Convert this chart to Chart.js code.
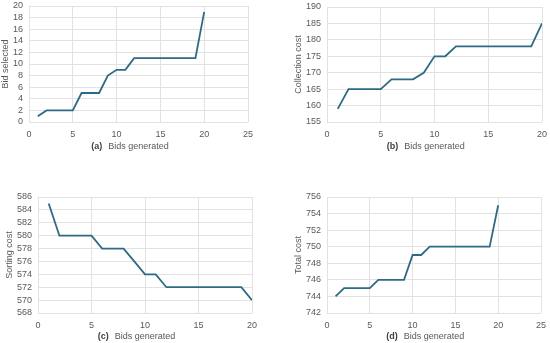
<!DOCTYPE html>
<html>
<head>
<meta charset="utf-8">
<script src="https://cdn.jsdelivr.net/npm/chart.js@4.4.1/dist/chart.umd.min.js"></script>
<style>
  html, body { margin: 0; padding: 0; background: #ffffff; }
  body { width: 550px; height: 343px; position: relative; overflow: hidden; }
  .cell { position: absolute; width: 275px; height: 172px; }
  canvas { display: block; }
</style>
</head>
<body>
<div class="cell" style="left:0;top:0"><canvas id="ca"></canvas></div>
<div class="cell" style="left:275px;top:0"><canvas id="cb"></canvas></div>
<div class="cell" style="left:0;top:172px;height:171px"><canvas id="cc"></canvas></div>
<div class="cell" style="left:275px;top:172px;height:171px"><canvas id="cd"></canvas></div>
<script>
// ---- data ----
const bidsGenerated = [1, 2, 3, 4, 5, 6, 7, 8, 9, 10, 11, 12, 13, 14, 15, 16, 17, 18, 19, 20];
const bidSelected    = [1, 2, 2, 2, 2, 5, 5, 5, 8, 9, 9, 11, 11, 11, 11, 11, 11, 11, 11, 19];
const collectionCost = [159, 165, 165, 165, 165, 168, 168, 168, 170, 175, 175, 178, 178, 178, 178, 178, 178, 178, 178, 185];
const sortingCost    = [585, 580, 580, 580, 580, 578, 578, 578, 576, 574, 574, 572, 572, 572, 572, 572, 572, 572, 572, 570];
const totalCost      = [744, 745, 745, 745, 745, 746, 746, 746, 746, 749, 749, 750, 750, 750, 750, 750, 750, 750, 750, 755];

const panelLabels = ['(a)', '(b)', '(c)', '(d)'];
const xTitle = 'Bids generated';
const yTitles = ['Bid selected', 'Collection cost', 'Sorting cost', 'Total cost'];
const xMax = [25, 20, 20, 25];
const yMin = [0, 155, 568, 742];
const yMax = [20, 190, 586, 756];
const yStep = [2, 5, 2, 2];

const LINE = '#2f6a84';
const GRID = '#e2e2e2';
const TICK = '#595959';
const FONT = 'Liberation Sans, Arial, sans-serif';
const FS = 9;
const TITLE_PAD_BOTTOM = 1;

function toPoints(ys) { return bidsGenerated.map((x, i) => ({ x: x, y: ys[i] })); }

// draws the panel label "(a)" etc. just left of the x-axis title
const panelLabelPlugin = {
  id: 'panelLabel',
  afterDraw(chart, args, opts) {
    const ctx = chart.ctx;
    const xs = chart.scales.x;
    ctx.save();
    ctx.font = FS + 'px ' + FONT;
    const tw = ctx.measureText(xTitle).width;
    const cx = (chart.chartArea.left + chart.chartArea.right) / 2;
    const y = xs.bottom - TITLE_PAD_BOTTOM - FS * 1.2 / 2;
    ctx.font = 'bold ' + FS + 'px ' + FONT;
    ctx.fillStyle = '#404040';
    ctx.textAlign = 'right';
    ctx.textBaseline = 'middle';
    ctx.fillText(opts.text, cx - tw / 2 - 6, y);
    ctx.restore();
  }
};

function makeChart(id, idx, ys, geo) {
  new Chart(document.getElementById(id), {
    type: 'line',
    data: { datasets: [{ data: toPoints(ys), borderColor: LINE, borderWidth: 1.8, pointRadius: 0, tension: 0, fill: false }] },
    plugins: [panelLabelPlugin],
    options: {
      responsive: true, maintainAspectRatio: false, animation: false,
      layout: { padding: { left: geo.pl, right: geo.pr, top: geo.pt, bottom: geo.pb } },
      plugins: { legend: { display: false }, tooltip: { enabled: false }, panelLabel: { text: panelLabels[idx] } },
      scales: {
        x: {
          type: 'linear', min: 0, max: xMax[idx],
          ticks: { stepSize: 5, autoSkip: false, color: TICK, font: { family: FONT, size: FS }, padding: 7, maxRotation: 0 },
          grid: { color: GRID, lineWidth: 1, drawTicks: false },
          border: { display: false },
          title: { display: true, text: xTitle, color: TICK, font: { family: FONT, size: FS }, padding: { top: 0, bottom: TITLE_PAD_BOTTOM } },
          afterFit: s => { s.height = geo.xh; s.paddingLeft = 0; s.paddingRight = 0; }
        },
        y: {
          min: yMin[idx], max: yMax[idx],
          ticks: { stepSize: yStep[idx], autoSkip: false, color: TICK, font: { family: FONT, size: FS }, padding: 6 },
          grid: { color: GRID, lineWidth: 1, drawTicks: false },
          border: { display: false },
          title: { display: true, text: yTitles[idx], color: TICK, font: { family: FONT, size: FS }, padding: 0 },
          afterFit: s => { s.width = geo.yw; s.paddingTop = 0; s.paddingBottom = 0; }
        }
      }
    }
  });
}

makeChart('ca', 0, bidSelected,    { pl: 0,  yw: 29, pr: 27, pt: 6,  xh: 31, pb: 19 });
makeChart('cb', 1, collectionCost, { pl: 18, yw: 34, pr: 8,  pt: 7,  xh: 31, pb: 19 });
makeChart('cc', 2, sortingCost,    { pl: 4,  yw: 34, pr: 23, pt: 25, xh: 30, pb: 0 });
makeChart('cd', 3, totalCost,      { pl: 18, yw: 34, pr: 9,  pt: 25, xh: 30, pb: 0 });
</script>
</body>
</html>
